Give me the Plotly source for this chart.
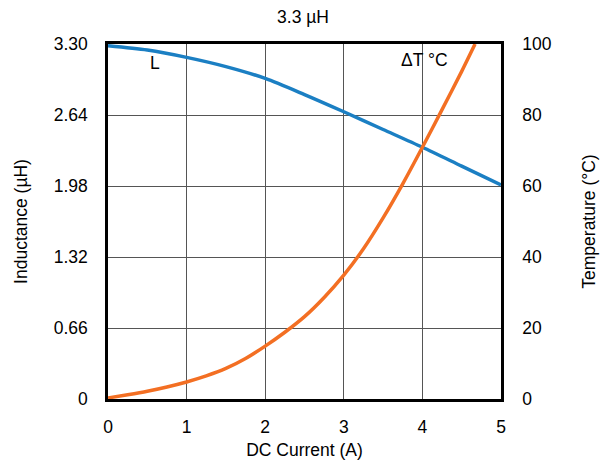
import plotly.graph_objects as go
from plotly.subplots import make_subplots

current_L = [0, 0.5, 1, 1.5, 2, 2.5, 3, 3.5, 4, 4.5, 5]
inductance = [3.284, 3.244, 3.176, 3.09, 2.98, 2.83, 2.67, 2.505, 2.34, 2.165, 1.99]

current_T = [0, 0.25, 0.5, 0.75, 1, 1.25, 1.5, 1.75, 2, 2.25, 2.5, 2.75, 3, 3.25, 3.5, 3.75, 4, 4.25, 4.5, 4.67]
temperature = [0.3, 1.2, 2.2, 3.4, 4.8, 6.5, 8.6, 11.4, 14.9, 18.8, 23.2, 28.6, 34.9, 42.3, 51.0, 60.6, 70.9, 81.5, 92.3, 100]

y1_ticks = [0, 0.66, 1.32, 1.98, 2.64, 3.30]
y1_labels = ["0", "0.66", "1.32", "1.98", "2.64", "3.30"]
y2_ticks = [0, 20, 40, 60, 80, 100]
x_ticks = [0, 1, 2, 3, 4, 5]

FONT = "Liberation Sans, Arial, sans-serif"
FS = 17.5

# page body has an 8px margin, so the figure is sized/offset to land on the reference layout
W, H = 604, 452

fig = make_subplots(specs=[[{"secondary_y": True}]])
fig.add_trace(go.Scatter(x=current_L, y=inductance, mode="lines",
                         line=dict(color="#1b7fc3", width=3.5, shape="spline", smoothing=0.8),
                         showlegend=False), secondary_y=False)
fig.add_trace(go.Scatter(x=current_T, y=temperature, mode="lines",
                         line=dict(color="#f36f23", width=3.5, shape="spline", smoothing=0.6),
                         showlegend=False), secondary_y=True)

fig.update_layout(
    width=W, height=H,
    margin=dict(l=100, r=111, t=36, b=61),
    paper_bgcolor="white", plot_bgcolor="white",
    font=dict(family=FONT, size=FS, color="black"),
    title=dict(text="3.3 µH", x=295 / W, xanchor="center", y=1 - 9 / H, yanchor="middle",
               font=dict(size=FS)),
    annotations=[
        dict(text="L", x=0.6, y=3.12, xref="x", yref="y", showarrow=False, font=dict(size=FS)),
        dict(text="ΔT °C", x=4.03, y=3.15, xref="x", yref="y", showarrow=False, font=dict(size=FS)),
    ],
)
fig.update_xaxes(domain=[0, 1], range=[0, 5], tickvals=x_ticks, showgrid=True, gridcolor="#555555", gridwidth=1,
                 showline=True, linecolor="black", linewidth=2.5, mirror=True, zeroline=False,
                 ticks="outside", ticklen=10, tickcolor="rgba(0,0,0,0)", automargin=False,
                 title=dict(text="DC Current (A)", standoff=10, font=dict(size=FS)))
fig.update_yaxes(range=[0, 3.30], tickvals=y1_ticks, ticktext=y1_labels, showgrid=True,
                 gridcolor="#555555", gridwidth=1,
                 showline=True, linecolor="black", linewidth=2.5, mirror=True, zeroline=False,
                 ticks="outside", ticklen=14, tickcolor="rgba(0,0,0,0)", automargin=False,
                 title=dict(text="Inductance (µH)", standoff=22, font=dict(size=FS)), secondary_y=False)
fig.update_yaxes(range=[0, 100], tickvals=y2_ticks, showgrid=False, showline=True, linecolor="black",
                 linewidth=2.5, zeroline=False, ticks="outside", ticklen=15, tickcolor="rgba(0,0,0,0)",
                 automargin=False,
                 title=dict(text="Temperature (°C)", standoff=33, font=dict(size=FS)), secondary_y=True)

fig.write_html("out.html")
